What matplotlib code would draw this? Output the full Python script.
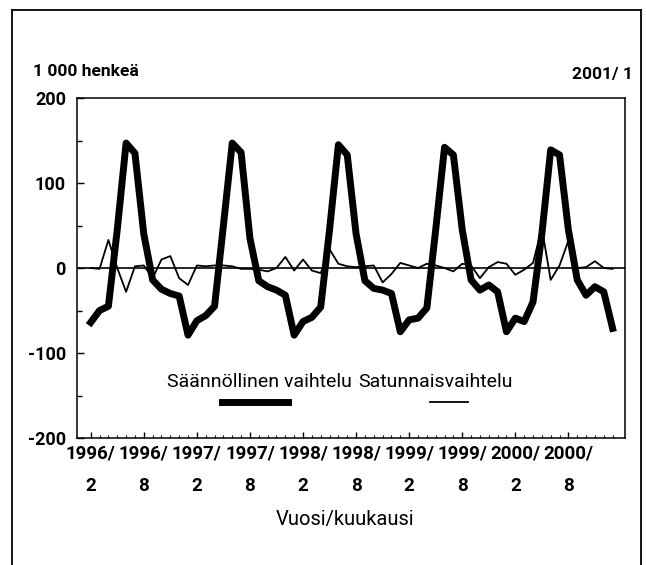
import numpy as np
import matplotlib
matplotlib.use('Agg')
import matplotlib.pyplot as plt
from matplotlib.lines import Line2D

plt.rcParams['font.family'] = ['Roboto', 'DejaVu Sans']

# monthly values 1996/2 .. 2001/1, 1 000 persons
seasonal = [-64, -50, -45, 45, 147, 135, 40, -14, -25, -30, -33, -79,
            -62, -56, -45, 50, 147, 136, 35, -15, -22, -26, -32, -79,
            -63, -58, -46, 45, 145, 133, 40, -15, -24, -26, -30, -75,
            -61, -59, -47, 45, 142, 133, 45, -14, -26, -20, -28, -75,
            -59, -63, -40, 40, 139, 133, 45, -14, -32, -22, -28, -71]
random_var = [0, -1, 33, 0, -28, 2, 3, -12, 10, 14, -12, -20,
              3, 2, 3, 3, 2, -1, -1, -2, -4, 0, 13, -3,
              10, -3, -6, 22, 5, 2, 1, 2, 3, -17, -7, 6,
              3, 0, 5, 3, 0, -4, 5, 3, -12, 1, 7, 5,
              -8, -2, 6, 47, -14, 3, 32, 0, 1, 8, 0, -1]
tick_labels = ['1996/\n2', '1996/\n8', '1997/\n2', '1997/\n8', '1998/\n2',
               '1998/\n8', '1999/\n2', '1999/\n8', '2000/\n2', '2000/\n8']
series_names = ['Säännöllinen vaihtelu', 'Satunnaisvaihtelu']

months = np.arange(len(seasonal))

W, H = 646, 565
fig = plt.figure(figsize=(W / 100, H / 100), dpi=100)
ax = fig.add_axes([77 / W, 1 - 438 / H, 548 / W, 340 / H])

ax.plot(months, seasonal, color='black', lw=5)
ax.plot(months, random_var, color='black', lw=1.3)
ax.axhline(0, color='black', lw=1.2)

ax.set_xlim(-1.55, 60.4)
ax.set_ylim(-200, 200)

ax.set_yticks([-200, -100, 0, 100, 200])
ax.set_yticks([-150, -50, 50, 150], minor=True)
ax.set_yticklabels(['-200', '-100', '0', '100', '200'],
                   fontsize=13, fontweight='bold')
ax.set_xticks(months[::6])
ax.set_xticks(months, minor=True)
ax.set_xticklabels(tick_labels, fontsize=13.5, fontweight='bold', linespacing=2.0)

ax.tick_params(axis='y', which='major', direction='in', length=5, width=1, pad=8)
ax.tick_params(axis='y', which='minor', direction='in', length=3.5, width=1)
ax.tick_params(axis='x', which='major', direction='in', length=4, width=1, pad=5)
ax.tick_params(axis='x', which='minor', direction='in', length=2, width=0.8)
for s in ax.spines.values():
    s.set_linewidth(1.1)

# legend drawn by hand: labels above, line samples below
fig.text(352 / W, 1 - 382 / H, series_names[0], ha='right', va='center', fontsize=14)
fig.text(358 / W, 1 - 382 / H, series_names[1], ha='left', va='center', fontsize=14)
ax.plot([0.265, 0.385], [0.106, 0.106], transform=ax.transAxes, color='black', lw=5)
ax.plot([0.644, 0.713], [0.106, 0.106], transform=ax.transAxes, color='black', lw=1.3)

fig.text(33 / W, 1 - 72 / H, '1 000 henkeä', ha='left', va='center',
         fontsize=12.5, fontweight='bold')
fig.text(633 / W, 1 - 75 / H, '2001/ 1', ha='right', va='center',
         fontsize=12.5, fontweight='bold')
fig.text(345 / W, 1 - 520 / H, 'Vuosi/kuukausi', ha='center', va='center', fontsize=14.5)

# outer frame of the page
fig.add_artist(Line2D([12 / W, 12 / W], [0, 1 - 10 / H], color='black', lw=1.3))
fig.add_artist(Line2D([12 / W, 641 / W], [1 - 10 / H, 1 - 10 / H], color='black', lw=1.3))
fig.add_artist(Line2D([641 / W, 641 / W], [0, 1 - 10 / H], color='black', lw=1.3))

fig.savefig('out.png', dpi=100)
